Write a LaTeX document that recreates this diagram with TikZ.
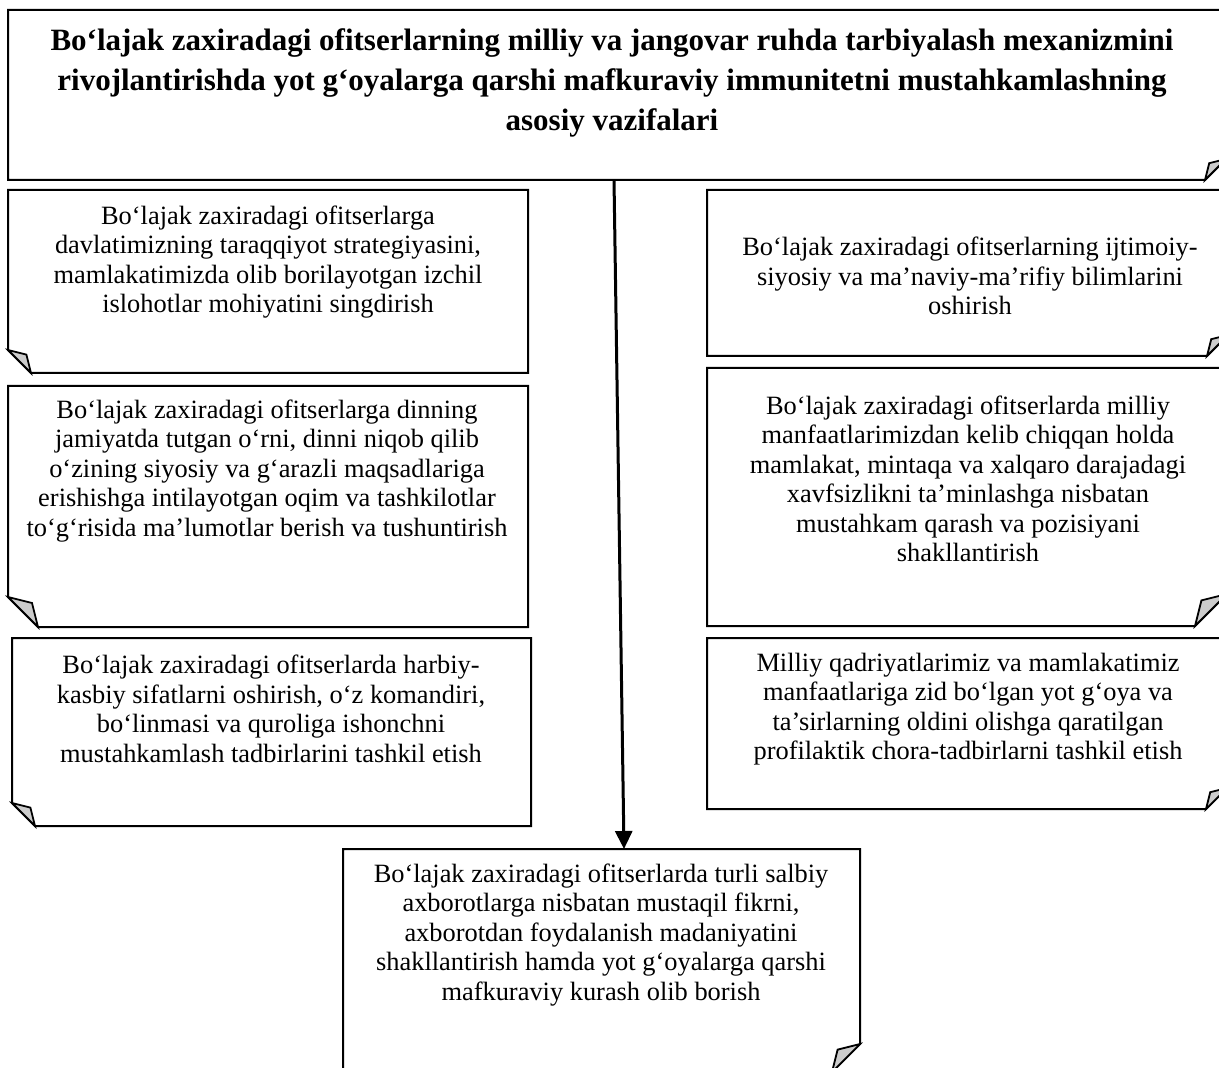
\documentclass[tikz,border=0pt]{standalone}
\usepackage{fontspec}
\setmainfont{Liberation Serif}
\usetikzlibrary{arrows.meta}
\tikzset{
  boxline/.style={draw=black,line width=1pt,line join=miter,fill=white},
  foldline/.style={draw=black,line width=0.9pt,fill=black!20,line join=miter},
  btext/.style={align=center,inner sep=0pt,font={\fontsize{13.2}{14.75}\selectfont}},
  ttext/.style={align=center,inner sep=0pt,font={\bfseries\fontsize{15.5}{20}\selectfont}},
  mainarrow/.style={line width=1.5pt,-{Triangle[width=8.5pt,length=9pt]}}
}
\newcommand\fcBL[5]{%
  \draw[boxline] (#1,#2) -- (#3,#2) -- (#3,#4) -- ({#1+#5},#4) -- (#1,{#4-#5}) -- cycle;
  \draw[foldline] (#1,{#4-#5}) -- ({#1+0.8*#5},{#4-0.8*#5}) -- ({#1+#5},#4) -- cycle;}
\newcommand\fcBR[5]{%
  \draw[boxline] (#1,#2) -- (#3,#2) -- (#3,{#4-#5}) -- ({#3-#5},#4) -- (#1,#4) -- cycle;
  \draw[foldline] (#3,{#4-#5}) -- ({#3-0.8*#5},{#4-0.8*#5}) -- ({#3-#5},#4) -- cycle;}
\begin{document}
\begin{tikzpicture}[x=0.5pt,y=-0.5pt]
\clip (0,0) rectangle (1219,1068);
\fill[white] (0,0) rectangle (1219,1068);
% boxes
\fcBR{8}{10}{1226}{180}{21}
\fcBL{8}{190}{528}{373}{23}
\fcBL{8}{386}{528}{627}{30}
\fcBL{12}{638}{531}{826}{23}
\fcBR{707}{190}{1228}{356}{21}
\fcBR{707}{368}{1227}{626}{32}
\fcBR{707}{638}{1227}{809}{21}
\fcBR{343}{849}{860}{1072}{28}
% texts
\node[ttext] (title) at (612,83) {Bo‘lajak zaxiradagi ofitserlarning milliy va jangovar ruhda tarbiyalash mexanizmini\\rivojlantirishda yot g‘oyalarga qarshi mafkuraviy immunitetni mustahkamlashning\\asosiy vazifalari};
\node[btext] (l1) at (268,262) {Bo‘lajak zaxiradagi ofitserlarga\\davlatimizning taraqqiyot strategiyasini,\\mamlakatimizda olib borilayotgan izchil\\islohotlar mohiyatini singdirish};
\node[btext] (l2) at (267,471) {Bo‘lajak zaxiradagi ofitserlarga dinning\\jamiyatda tutgan o‘rni, dinni niqob qilib\\o‘zining siyosiy va g‘arazli maqsadlariga\\erishishga intilayotgan oqim va tashkilotlar\\to‘g‘risida ma’lumotlar berish va tushuntirish};
\node[btext] (l3) at (271,709) {Bo‘lajak zaxiradagi ofitserlarda harbiy-\\kasbiy sifatlarni oshirish, o‘z komandiri,\\bo‘linmasi va quroliga ishonchni\\mustahkamlash tadbirlarini tashkil etish};
\node[btext] (r1) at (970,276) {Bo‘lajak zaxiradagi ofitserlarning ijtimoiy-\\siyosiy va ma’naviy-ma’rifiy bilimlarini\\oshirish};
\node[btext] (r2) at (968,479) {Bo‘lajak zaxiradagi ofitserlarda milliy\\manfaatlarimizdan kelib chiqqan holda\\mamlakat, mintaqa va xalqaro darajadagi\\xavfsizlikni ta’minlashga nisbatan\\mustahkam qarash va pozisiyani\\shakllantirish};
\node[btext] (r3) at (968,709) {Milliy qadriyatlarimiz va mamlakatimiz\\manfaatlariga zid bo‘lgan yot g‘oya va\\ta’sirlarning oldini olishga qaratilgan\\profilaktik chora-tadbirlarni tashkil etish};
\node[btext] (bot) at (601,935) {Bo‘lajak zaxiradagi ofitserlarda turli salbiy\\axborotlarga nisbatan mustaqil fikrni,\\axborotdan foydalanish madaniyatini\\shakllantirish hamda yot g‘oyalarga qarshi\\mafkuraviy kurash olib borish};
% arrow
\coordinate (topS) at (614,180);
\coordinate (botN) at (624,849);
\draw[mainarrow] (topS) -- (botN);
\end{tikzpicture}
\end{document}
